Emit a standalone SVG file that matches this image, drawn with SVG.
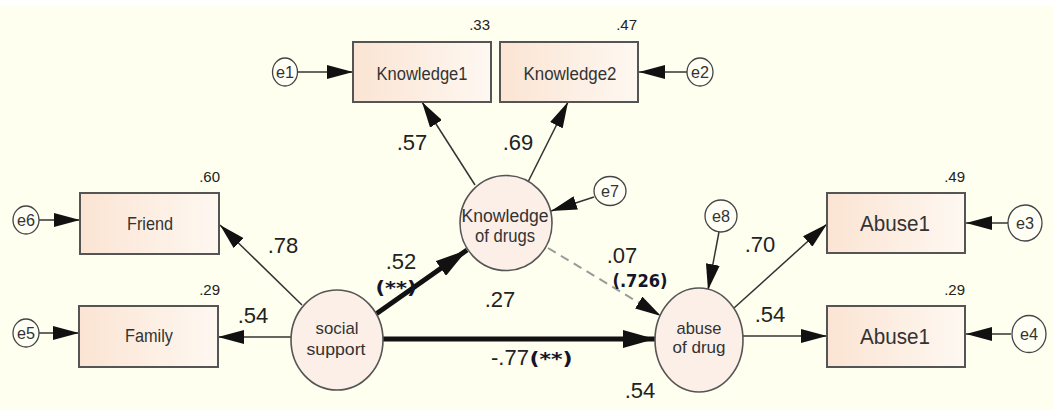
<svg xmlns="http://www.w3.org/2000/svg" width="1053" height="410" viewBox="0 0 1053 410">
<defs>
<linearGradient id="boxfill" x1="0" y1="0" x2="1" y2="0">
<stop offset="0" stop-color="#fbe4d3"/>
<stop offset="1" stop-color="#fef8f1"/>
</linearGradient>
<marker id="ah" markerUnits="userSpaceOnUse" markerWidth="26" markerHeight="14" refX="26" refY="7" orient="auto" viewBox="0 0 26 14">
<path d="M0,0 L26,7 L0,14 z" fill="#111"/>
</marker>
<marker id="ahb" markerUnits="userSpaceOnUse" markerWidth="32" markerHeight="18" refX="32" refY="9" orient="auto" viewBox="0 0 32 18">
<path d="M0,0 L32,9 L0,18 z" fill="#111"/>
</marker>
<style>
.box{fill:url(#boxfill);stroke:#555;stroke-width:2}
.lat{fill:#fbefe8;stroke:#555;stroke-width:1.6}
.err{fill:#fffff6;stroke:#444;stroke-width:1.3}
.t{font-family:"Liberation Sans",Arial,sans-serif;fill:#333;text-anchor:middle}
.n{font-family:"Liberation Sans",Arial,sans-serif;fill:#222}
.sig{font-family:"DejaVu Sans",Verdana,sans-serif;font-weight:bold;fill:#14142a}
.c{stroke:#333;stroke-width:1.5;fill:none;marker-end:url(#ah)}
.ck{stroke:#111;stroke-width:5;fill:none;marker-end:url(#ahb)}
.cd{stroke:#9a9a9a;stroke-width:2;fill:none;stroke-dasharray:9 6;marker-end:url(#ah)}
</style>
</defs>
<rect x="0" y="0" width="1053" height="410" fill="#ffffff"/>
<rect x="0" y="6" width="1053" height="404" fill="#feffef"/>

<g id="connectors">
<line class="c" x1="298" y1="72" x2="353" y2="72"/>
<line class="c" x1="687" y1="72" x2="639" y2="72"/>
<line class="c" x1="475" y1="185" x2="422" y2="102"/>
<line class="c" x1="528" y1="182" x2="568" y2="102"/>
<line class="c" x1="594" y1="197" x2="551" y2="211"/>
<line class="c" x1="39" y1="220" x2="80" y2="220"/>
<line class="c" x1="39" y1="333" x2="79" y2="333"/>
<line class="c" x1="302" y1="305" x2="220" y2="225"/>
<line class="c" x1="291" y1="337" x2="218" y2="337"/>
<line class="ck" x1="376" y1="314" x2="467" y2="250"/>
<line class="ck" x1="383" y1="339" x2="655" y2="339"/>
<line class="cd" x1="548" y1="248" x2="661" y2="316"/>
<line class="c" x1="719" y1="232" x2="708" y2="290"/>
<line class="c" x1="734" y1="308" x2="827" y2="224"/>
<line class="c" x1="743" y1="336" x2="827" y2="336"/>
<line class="c" x1="1008" y1="223" x2="966" y2="223"/>
<line class="c" x1="1011" y1="334" x2="966" y2="334"/>
</g>

<g id="Knowledge1">
<rect class="box" x="353" y="42" width="138" height="60"/>
<text class="t" x="422" y="80" font-size="18" textLength="91" lengthAdjust="spacingAndGlyphs">Knowledge1</text>
<text class="n" x="490" y="30" font-size="15" text-anchor="end">.33</text>
</g>
<g id="Knowledge2">
<rect class="box" x="500" y="42" width="138" height="60"/>
<text class="t" x="570" y="80" font-size="18" textLength="93" lengthAdjust="spacingAndGlyphs">Knowledge2</text>
<text class="n" x="637" y="30" font-size="15" text-anchor="end">.47</text>
</g>
<g id="Friend">
<rect class="box" x="80" y="193" width="139" height="61"/>
<text class="t" x="150" y="230" font-size="19" textLength="46" lengthAdjust="spacingAndGlyphs">Friend</text>
<text class="n" x="220" y="182" font-size="15" text-anchor="end">.60</text>
</g>
<g id="Family">
<rect class="box" x="79" y="306" width="139" height="61"/>
<text class="t" x="149" y="342" font-size="19" textLength="48" lengthAdjust="spacingAndGlyphs">Family</text>
<text class="n" x="220" y="295" font-size="15" text-anchor="end">.29</text>
</g>
<g id="Abuse1a">
<rect class="box" x="827" y="193" width="138" height="60"/>
<text class="t" x="895" y="231" font-size="22" textLength="70" lengthAdjust="spacingAndGlyphs">Abuse1</text>
<text class="n" x="965" y="182" font-size="15" text-anchor="end">.49</text>
</g>
<g id="Abuse1b">
<rect class="box" x="827" y="306" width="138" height="61"/>
<text class="t" x="895" y="344" font-size="22" textLength="70" lengthAdjust="spacingAndGlyphs">Abuse1</text>
<text class="n" x="965" y="295" font-size="15" text-anchor="end">.29</text>
</g>

<g id="social_support">
<ellipse class="lat" cx="337" cy="340" rx="46" ry="50"/>
<text class="t" x="337" y="334" font-size="17" textLength="43" lengthAdjust="spacingAndGlyphs">social</text>
<text class="t" x="336" y="355" font-size="17" textLength="59" lengthAdjust="spacingAndGlyphs">support</text>
</g>
<g id="knowledge_of_drugs">
<ellipse class="lat" cx="506" cy="223" rx="46" ry="47.5"/>
<text class="t" x="505" y="222" font-size="18" textLength="87" lengthAdjust="spacingAndGlyphs">Knowledge</text>
<text class="t" x="505" y="242" font-size="18" textLength="60" lengthAdjust="spacingAndGlyphs">of drugs</text>
<text class="n" x="500" y="307" font-size="22" text-anchor="middle">.27</text>
</g>
<g id="abuse_of_drug">
<ellipse class="lat" cx="699" cy="340" rx="44" ry="52"/>
<text class="t" x="699" y="334" font-size="17" textLength="45" lengthAdjust="spacingAndGlyphs">abuse</text>
<text class="t" x="699" y="353" font-size="17" textLength="53" lengthAdjust="spacingAndGlyphs">of drug</text>
<text class="n" x="640" y="398" font-size="22" text-anchor="middle">.54</text>
</g>

<g id="e1"><ellipse class="err" cx="285" cy="72" rx="12.5" ry="14"/><text class="t" x="285" y="78" font-size="16" textLength="18" lengthAdjust="spacingAndGlyphs">e1</text></g>
<g id="e2"><ellipse class="err" cx="700" cy="72" rx="13" ry="14"/><text class="t" x="700" y="78" font-size="16" textLength="18" lengthAdjust="spacingAndGlyphs">e2</text></g>
<g id="e6"><ellipse class="err" cx="26" cy="220" rx="13" ry="14"/><text class="t" x="26" y="226" font-size="16" textLength="18" lengthAdjust="spacingAndGlyphs">e6</text></g>
<g id="e5"><ellipse class="err" cx="26" cy="333" rx="13" ry="14"/><text class="t" x="26" y="339" font-size="16" textLength="18" lengthAdjust="spacingAndGlyphs">e5</text></g>
<g id="e7"><ellipse class="err" cx="610" cy="191" rx="16" ry="14.5"/><text class="t" x="610" y="197" font-size="16" textLength="18" lengthAdjust="spacingAndGlyphs">e7</text></g>
<g id="e8"><ellipse class="err" cx="721" cy="216" rx="16" ry="16"/><text class="t" x="721" y="222" font-size="16" textLength="18" lengthAdjust="spacingAndGlyphs">e8</text></g>
<g id="e3"><ellipse class="err" cx="1025" cy="223" rx="17" ry="18"/><text class="t" x="1025" y="229" font-size="16" textLength="18" lengthAdjust="spacingAndGlyphs">e3</text></g>
<g id="e4"><ellipse class="err" cx="1029" cy="334" rx="17" ry="18.5"/><text class="t" x="1029" y="340" font-size="16" textLength="18" lengthAdjust="spacingAndGlyphs">e4</text></g>

<g id="edge-labels">
<text class="n" x="412" y="150" font-size="22" text-anchor="middle">.57</text>
<text class="n" x="518" y="150" font-size="22" text-anchor="middle">.69</text>
<text class="n" x="283" y="253" font-size="22" text-anchor="middle">.78</text>
<text class="n" x="253" y="323" font-size="22" text-anchor="middle">.54</text>
<text class="n" x="401" y="269" font-size="22" text-anchor="middle">.52</text>
<text class="sig" x="396" y="294" font-size="18" text-anchor="middle" textLength="41" lengthAdjust="spacingAndGlyphs">(**)</text>
<text class="n" x="622" y="263" font-size="22" text-anchor="middle">.07</text>
<text class="sig" x="640" y="287" font-size="17" text-anchor="middle" textLength="55" lengthAdjust="spacingAndGlyphs">(.726)</text>
<text class="n" x="510" y="365" font-size="22" text-anchor="middle">-.77</text>
<text class="sig" x="551" y="365" font-size="18" text-anchor="middle" textLength="43" lengthAdjust="spacingAndGlyphs">(**)</text>
<text class="n" x="760" y="252" font-size="22" text-anchor="middle">.70</text>
<text class="n" x="770" y="322" font-size="22" text-anchor="middle">.54</text>
</g>
</svg>
